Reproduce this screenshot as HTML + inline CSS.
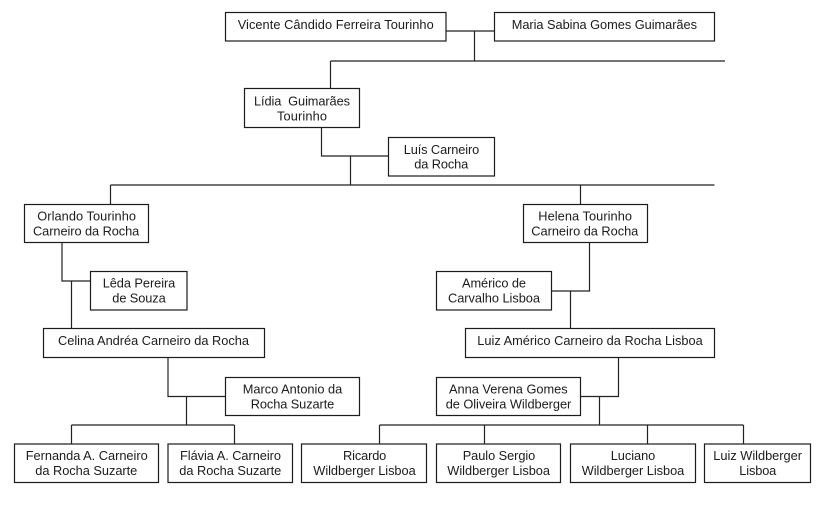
<!DOCTYPE html>
<html>
<head>
<meta charset="utf-8">
<style>
html,body{margin:0;padding:0;background:#fff;width:821px;height:506px;overflow:hidden}
svg{display:block}
text{font-family:"Liberation Sans",Arial,sans-serif;font-size:12.8px;fill:#1c1c1c}
rect{fill:#fff;stroke:#1c1c1c;stroke-width:1.2}
path{fill:none;stroke:#222;stroke-width:1.2}
</style>
</head>
<body>
<svg width="821" height="506" viewBox="0 0 821 506" xmlns="http://www.w3.org/2000/svg">
<path d="M446 31H494.5M474.5 31V61M330.5 61H725M330.5 61V88.5"/>
<path d="M321.5 127.5V156H388.5M350.5 156V185M110.5 185H714.5M110.5 185V204.5M580.5 185V204.5"/>
<path d="M62 242.5V281H90.5M71.5 281V328.5"/>
<path d="M168 357.5V396.5H225.5M186.5 396.5V425M71.5 425H234.5M71.5 425V444M234.5 425V444"/>
<path d="M589.5 242.5V291H551.5M570.5 291V328.5"/>
<path d="M618.5 357.5V396.5H580.5M599.5 396.5V425M379.5 425H743.5M379.5 425V444M484.5 425V444M647.5 425V444M743.5 425V444"/>

<rect x="225.5" y="12.5" width="220.5" height="28.5"/>
<rect x="494.5" y="12.5" width="220" height="28.5"/>
<rect x="244.5" y="88.5" width="115" height="39"/>
<rect x="388.5" y="137.5" width="106" height="38.5"/>
<rect x="24.5" y="204.5" width="124" height="38"/>
<rect x="523.5" y="204.5" width="124" height="38"/>
<rect x="90.5" y="271.5" width="96.5" height="38.5"/>
<rect x="436.5" y="271.5" width="115" height="38.5"/>
<rect x="43.5" y="328.5" width="221" height="29"/>
<rect x="465.5" y="328.5" width="249" height="29"/>
<rect x="225.5" y="377.5" width="134" height="38"/>
<rect x="436.5" y="377.5" width="144" height="38"/>
<rect x="14.5" y="444" width="144" height="38.5"/>
<rect x="168" y="444" width="124.5" height="38.5"/>
<rect x="301.5" y="444" width="125" height="38.5"/>
<rect x="436.5" y="444" width="124" height="38.5"/>
<rect x="570.5" y="444" width="125" height="38.5"/>
<rect x="704.5" y="444" width="106" height="38.5"/>

<text x="237.7" y="29" textLength="196" lengthAdjust="spacing">Vicente Cândido Ferreira Tourinho</text>
<text x="511.7" y="29" textLength="185.3" lengthAdjust="spacing">Maria Sabina Gomes Guimarães</text>
<text x="254" y="105.5" textLength="96" lengthAdjust="spacing" xml:space="preserve">Lídia  Guimarães</text>
<text x="277" y="120.5" textLength="50" lengthAdjust="spacing">Tourinho</text>
<text x="403.7" y="154" textLength="75.6" lengthAdjust="spacing">Luís Carneiro</text>
<text x="414.3" y="168.5" textLength="54" lengthAdjust="spacing">da Rocha</text>
<text x="37.3" y="220.7" textLength="98.7" lengthAdjust="spacing">Orlando Tourinho</text>
<text x="33" y="235.3" textLength="106.3" lengthAdjust="spacing">Carneiro da Rocha</text>
<text x="538.3" y="220.7" textLength="93.7" lengthAdjust="spacing">Helena Tourinho</text>
<text x="531.3" y="235.3" textLength="107" lengthAdjust="spacing">Carneiro da Rocha</text>
<text x="102.7" y="287.7" textLength="72.6" lengthAdjust="spacing">Lêda Pereira</text>
<text x="112.3" y="302.3" textLength="53.4" lengthAdjust="spacing">de Souza</text>
<text x="462" y="287.7" textLength="64" lengthAdjust="spacing">Américo de</text>
<text x="448" y="302.3" textLength="92" lengthAdjust="spacing">Carvalho Lisboa</text>
<text x="58" y="345" textLength="191" lengthAdjust="spacing">Celina Andréa Carneiro da Rocha</text>
<text x="477.3" y="345" textLength="225.4" lengthAdjust="spacing">Luiz Américo Carneiro da Rocha Lisboa</text>
<text x="242.7" y="393.7" textLength="99.6" lengthAdjust="spacing">Marco Antonio da</text>
<text x="250.7" y="408.3" textLength="83.6" lengthAdjust="spacing">Rocha Suzarte</text>
<text x="449" y="393.7" textLength="118.7" lengthAdjust="spacing">Anna Verena Gomes</text>
<text x="445.7" y="408.3" textLength="125.6" lengthAdjust="spacing">de Oliveira Wildberger</text>
<text x="25.7" y="460" textLength="122" lengthAdjust="spacing">Fernanda A. Carneiro</text>
<text x="35.3" y="475" textLength="102" lengthAdjust="spacing">da Rocha Suzarte</text>
<text x="180" y="460" textLength="101" lengthAdjust="spacing">Flávia A. Carneiro</text>
<text x="179.3" y="475" textLength="102" lengthAdjust="spacing">da Rocha Suzarte</text>
<text x="343" y="460" textLength="43.3" lengthAdjust="spacing">Ricardo</text>
<text x="313.3" y="475" textLength="102.4" lengthAdjust="spacing">Wildberger Lisboa</text>
<text x="462.7" y="460" textLength="72.6" lengthAdjust="spacing">Paulo Sergio</text>
<text x="447.3" y="475" textLength="102.7" lengthAdjust="spacing">Wildberger Lisboa</text>
<text x="610.7" y="460" textLength="44.6" lengthAdjust="spacing">Luciano</text>
<text x="581.7" y="475" textLength="102.6" lengthAdjust="spacing">Wildberger Lisboa</text>
<text x="713.3" y="460" textLength="88.7" lengthAdjust="spacing">Luiz Wildberger</text>
<text x="739.3" y="475" textLength="37" lengthAdjust="spacing">Lisboa</text>
</svg>
</body>
</html>
